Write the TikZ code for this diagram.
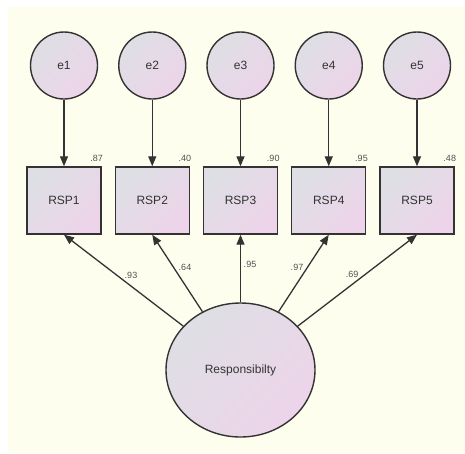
\documentclass[tikz,border=0pt]{standalone}
\usepackage{fontspec}
\setmainfont{Liberation Sans}
\usetikzlibrary{shapes.geometric,arrows.meta}
\definecolor{bgcream}{HTML}{FDFEEE}
\definecolor{shadeA}{HTML}{DEDFE4}
\definecolor{shadeB}{HTML}{EDD4EA}
\definecolor{ink}{HTML}{333333}
\begin{document}
\begin{tikzpicture}[x=1pt,y=-1pt,
  obj/.style={draw=ink, line width=1.4pt, top color=shadeA, bottom color=shadeB,
    shading angle=45, text=ink, font=\fontsize{12}{14}\selectfont},
  err/.style={obj, circle, minimum size=67pt, inner sep=0pt},
  obs/.style={obj, rectangle, minimum width=74pt, minimum height=67pt, inner sep=0pt},
  lat/.style={obj, ellipse, minimum width=149pt, minimum height=134pt, inner sep=0pt},
  regpath/.style={draw=ink, line width=1.3pt, -{Triangle[length=10pt,width=8pt]}},
  coef/.style={text=ink!85, font=\fontsize{9}{11}\selectfont, inner sep=0pt}
]
% canvas
\fill[white] (0,0) rectangle (465,453);
\fill[bgcream] (8,7) rectangle (465,453);
\useasboundingbox (0,0) rectangle (465,453);

% latent factor
\node[lat] (resp) at (240.5,370) {Responsibilty};

% indicators, their error terms and loadings
\foreach \i/\x/\r/\l/\lx/\ly in {1/64/.87/.93/131/275,
                                  2/152.25/.40/.64/185/267,
                                  3/240.5/.90/.95/250/264,
                                  4/328.75/.95/.97/297/267,
                                  5/417/.48/.69/352/274}{
  \node[err] (e\i) at (\x,65.5) {e\i};
  \node[obs] (rsp\i) at (\x,200.5) {RSP\i};
  \draw[regpath] (e\i) -- (rsp\i);
  \draw[regpath] (resp) -- (rsp\i.south);
  \node[coef, anchor=base east] (v\i) at ([xshift=1.5pt,yshift=5pt]rsp\i.north east) {\r};
  \node[coef] (w\i) at (\lx,\ly) {\l};
}
\end{tikzpicture}
\end{document}
